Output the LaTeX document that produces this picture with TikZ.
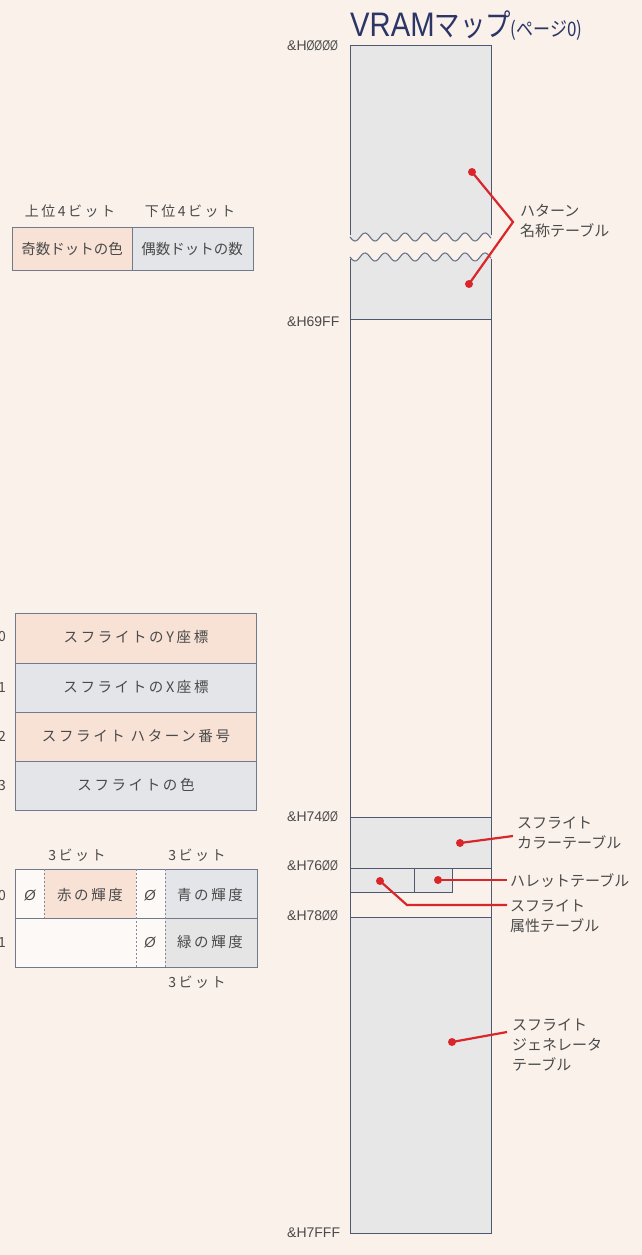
\documentclass[tikz,border=0pt]{standalone}
\usepackage{fontspec}
\setmainfont{Noto Sans CJK JP}
\newfontfamily\lat{Liberation Sans}
\newfontfamily\spc[LetterSpace=18]{Noto Sans CJK JP}
\newcommand\slz{\scalebox{0.72}[1]{Ø}}
\definecolor{bg}{HTML}{FAF1EA}
\definecolor{colgrey}{HTML}{E7E7E7}
\definecolor{pinkf}{HTML}{F8E2D6}
\definecolor{greyf}{HTML}{E3E5E8}
\definecolor{lineC}{HTML}{4E5870}
\definecolor{txt}{HTML}{4A4A4A}
\definecolor{ttl}{HTML}{2B3566}
\definecolor{redC}{HTML}{D9262B}
\tikzset{
  addr/.style={font=\lat\fontsize{14}{14}\selectfont, text=txt, anchor=west, inner sep=0pt},
  lbl/.style={font=\fontsize{15}{20}\selectfont, text=txt, align=left, anchor=west, inner sep=0pt},
  cell/.style={font=\spc\fontsize{14.5}{14.5}\selectfont, text=txt, inner sep=0pt},
  hdr/.style={font=\spc\fontsize{14}{14}\selectfont, text=txt, inner sep=0pt},
  reddot/.style={circle, fill=redC, inner sep=0pt, minimum size=8pt},
  conn/.style={draw=redC, line width=2.2pt},
  frame/.style={draw=lineC, line width=0.8pt},
  wave/.style={draw=lineC!85, line width=1.1pt},
  dline/.style={draw=lineC!70, line width=0.7pt, dash pattern=on 2pt off 2pt}
}
\begin{document}
\begin{tikzpicture}[x=1pt,y=-1pt]
\fill[bg] (0,0) rectangle (642,1255);
\useasboundingbox (0,0) rectangle (642,1255);

% ---------- title ----------
\node[inner sep=0pt, anchor=base west, text=ttl] (title) at (350,37)
  {\fontsize{34}{34}\selectfont\lat\scalebox{0.86}[1]{VRAM}\fontsize{31}{31}\selectfont\rmfamily\scalebox{0.82}[1]{マップ}\fontsize{20}{20}\selectfont\scalebox{0.85}[1]{(ページ0)}};

% ---------- main column fills ----------
\fill[colgrey] (350,45) -- (491,45) -- (491,237)
  -- plot[domain=491:350, samples=120] (\x,{237+4*sin(18*(\x-350))}) -- cycle;
\fill[colgrey] (350,257) -- plot[domain=350:491, samples=120] (\x,{257+4*sin(18*(\x-350))})
  -- (491,319) -- (350,319) -- cycle;
\fill[colgrey] (350,817) rectangle (491,868);
\fill[colgrey] (350,868) rectangle (452,892);
\fill[colgrey] (350,917) rectangle (491,1233);

% ---------- main column lines ----------
\draw[frame] (350,235) -- (350,45) -- (491,45) -- (491,235);
\draw[wave] plot[domain=350:491, samples=120] (\x,{237+4*sin(18*(\x-350))});
\draw[wave] plot[domain=350:491, samples=120] (\x,{257+4*sin(18*(\x-350))});
\draw[frame] (350,259) -- (350,1233) -- (491,1233) -- (491,259);
\draw[frame] (350,319) -- (491,319);
\draw[frame] (350,817) -- (491,817);
\draw[frame] (350,868) -- (491,868);
\draw[frame] (350,892) -- (452,892) -- (452,868);
\draw[frame] (414,868) -- (414,892);
\draw[frame] (350,917) -- (491,917);

% ---------- addresses ----------
\node[addr] (a0) at (287,46) {\&H\slz\slz\slz\slz};
\node[addr] (a1) at (287,322) {\&H69FF};
\node[addr] (a2) at (287,817) {\&H74\slz\slz};
\node[addr] (a3) at (287,866) {\&H76\slz\slz};
\node[addr] (a4) at (287,916) {\&H78\slz\slz};
\node[addr] (a5) at (287,1233) {\&H7FFF};

% ---------- pattern name table ----------
\node[reddot] (p1) at (472,172) {};
\node[reddot] (p2) at (469,284) {};
\coordinate (pv) at (513,222);
\node[lbl] (pl) at (520,221) {ハターン\\名称テーブル};
\draw[conn] (p1.center) -- (pv) -- (p2.center);

% ---------- sprite colour table ----------
\node[reddot] (c1) at (460,843) {};
\coordinate (c2) at (513,836);
\node[lbl] (cl) at (517,833) {スフライト\\カラーテーブル};
\draw[conn] (c1.center) -- (c2);

% ---------- palette table ----------
\node[reddot] (pa1) at (438,880) {};
\coordinate (pa2) at (507,880);
\node[lbl] (pal) at (510,881) {ハレットテーブル};
\draw[conn] (pa1.center) -- (pa2);

% ---------- sprite attribute table ----------
\node[reddot] (s1) at (380,881) {};
\coordinate (s2) at (407,905);
\coordinate (s3) at (507,905);
\node[lbl] (sl) at (510,916) {スフライト\\属性テーブル};
\draw[conn] (s1.center) -- (s2) -- (s3);

% ---------- sprite generator table ----------
\node[reddot] (g1) at (452,1042) {};
\coordinate (g2) at (507,1032);
\node[lbl] (gl) at (512,1045) {スフライト\\ジェネレータ\\テーブル};
\draw[conn] (g1.center) -- (g2);

% ---------- top-left table ----------
\node[hdr] (h1) at (70,211) {上位4ビット};
\node[hdr] (h2) at (190,211) {下位4ビット};
\fill[pinkf] (12,227) rectangle (132,270);
\fill[greyf] (132,227) rectangle (253,270);
\draw[frame, draw=lineC!80] (12,227) rectangle (253,270);
\draw[frame, draw=lineC!80] (132,227) -- (132,270);
\node[cell, font=\fontsize{14.5}{14.5}\selectfont] (t1) at (72,249) {奇数ドットの色};
\node[cell, font=\fontsize{14.5}{14.5}\selectfont] (t2) at (192,249) {偶数ドットの数};

% ---------- sprite attribute layout ----------
\fill[pinkf] (15,613) rectangle (256,663);
\fill[greyf] (15,663) rectangle (256,712);
\fill[pinkf] (15,712) rectangle (256,761);
\fill[greyf] (15,761) rectangle (256,810);
\draw[frame, draw=lineC!80] (15,613) rectangle (256,810);
\draw[frame, draw=lineC!80] (15,663) -- (256,663);
\draw[frame, draw=lineC!80] (15,712) -- (256,712);
\draw[frame, draw=lineC!80] (15,761) -- (256,761);
\node[cell] (r0) at (136,637) {スフライトのY座標};
\node[cell] (r1) at (136,687) {スフライトのX座標};
\node[cell] (r2) at (136,736) {スフライト\ ハターン番号};
\node[cell] (r3) at (136,785) {スフライトの色};
\node[hdr] (n0) at (2,637) {0};
\node[hdr] (n1) at (2,687) {1};
\node[hdr] (n2) at (2,736) {2};
\node[hdr] (n3) at (2,785) {3};

% ---------- palette layout ----------
\node[hdr] (b1) at (77,855) {3ビット};
\node[hdr] (b2) at (197,855) {3ビット};
\fill[white!60!bg] (15,869) rectangle (257,967);
\fill[pinkf] (44,869) rectangle (136,918);
\fill[greyf] (165,869) rectangle (257,918);
\fill[greyf!90!pinkf] (165,918) rectangle (257,967);
\draw[frame, draw=lineC!80] (15,869) rectangle (257,967);
\draw[frame, draw=lineC!80] (15,918) -- (257,918);
\draw[dline] (44,869) -- (44,918);
\draw[dline] (136,869) -- (136,967);
\draw[dline] (165,869) -- (165,967);
\node[cell] (z1) at (30,895) {\lat\itshape Ø};
\node[cell] (q1) at (90,895) {赤の輝度};
\node[cell] (z2) at (150,895) {\lat\itshape Ø};
\node[cell] (q2) at (210,895) {青の輝度};
\node[cell] (z3) at (150,942) {\lat\itshape Ø};
\node[cell] (q3) at (210,942) {緑の輝度};
\node[hdr] (m0) at (2,895) {0};
\node[hdr] (m1) at (2,942) {1};
\node[hdr] (b3) at (197,982) {3ビット};
\end{tikzpicture}
\end{document}
